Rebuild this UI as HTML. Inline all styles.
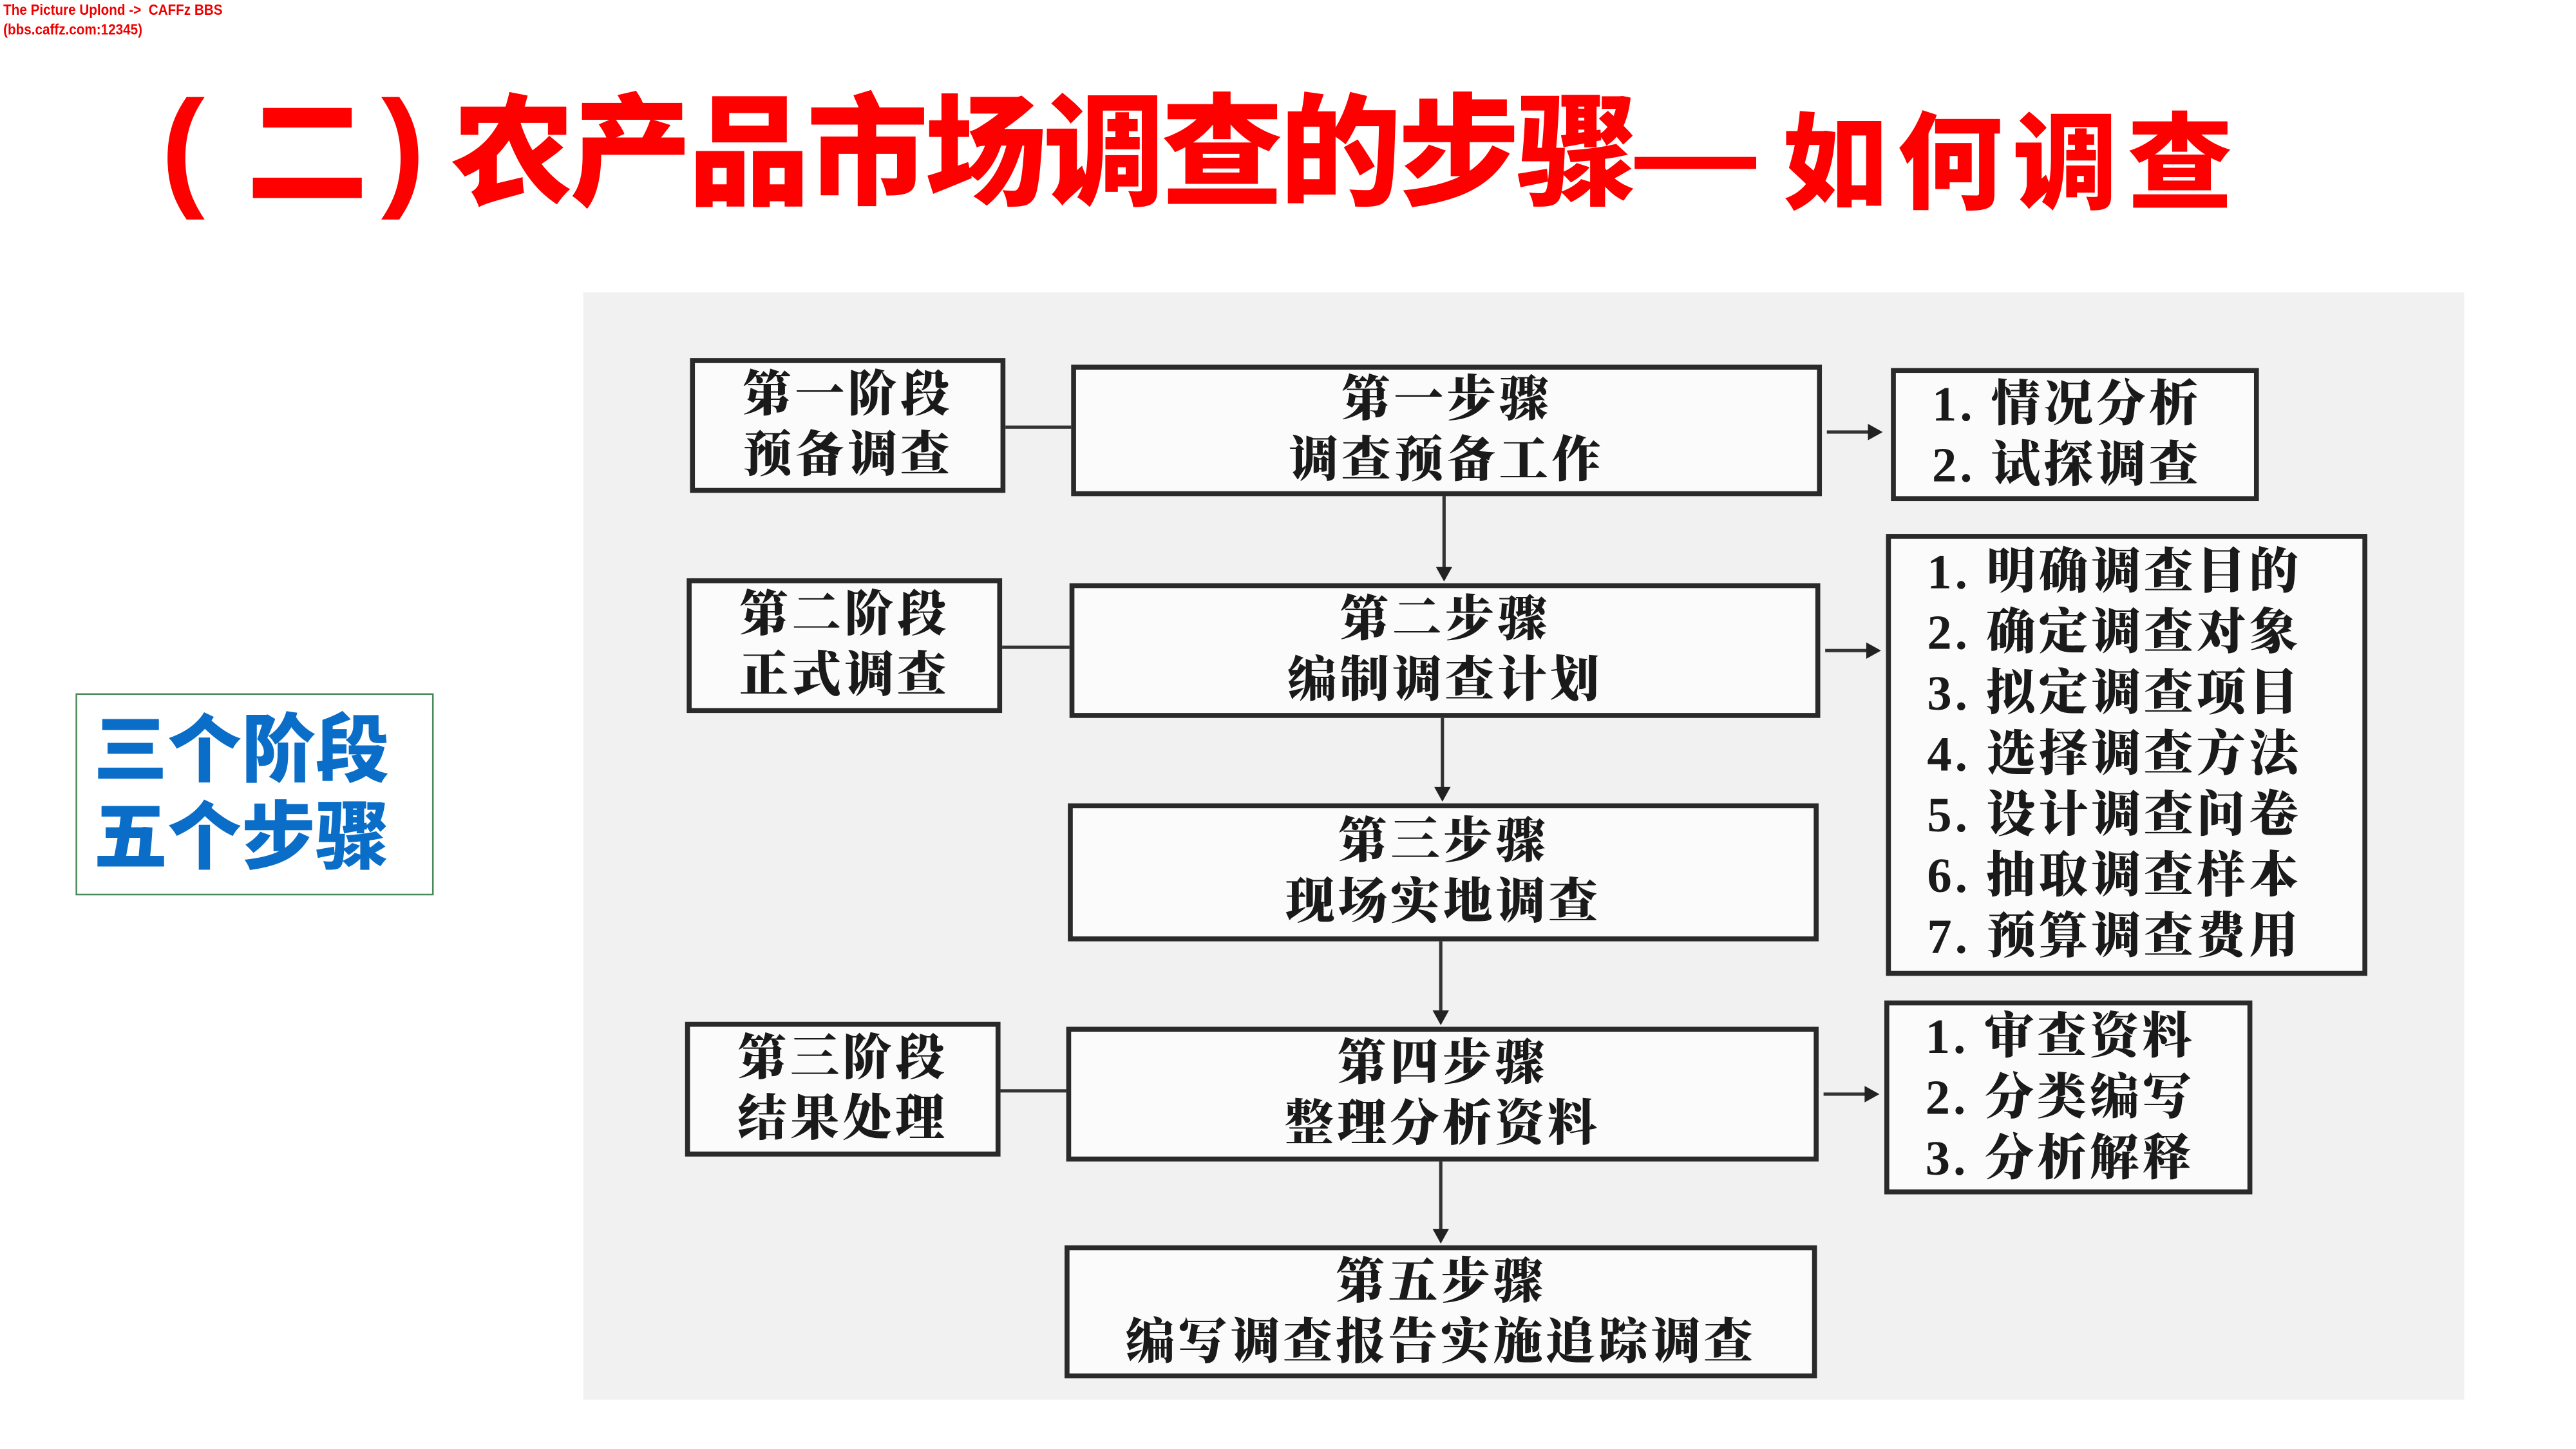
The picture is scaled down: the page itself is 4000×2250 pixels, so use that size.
<!DOCTYPE html>
<html><head><meta charset="utf-8">
<style>
html,body{margin:0;padding:0;background:#fff;}
#w{position:relative;width:1568px;height:882px;transform:scale(2.5510);transform-origin:0 0;overflow:hidden;background:#fff;}
.a{position:absolute;}
.bx{position:absolute;box-sizing:border-box;border:3px solid #2a2a2a;background:#fbfbfb;font-family:"Liberation Serif","Noto Serif CJK SC",serif;font-weight:900;color:#1a1a1a;font-size:30px;letter-spacing:2px;line-height:37px;text-align:center;display:flex;flex-direction:column;justify-content:center;white-space:nowrap;}
.ls{text-align:left;padding-left:22px;}
.h{position:absolute;height:2px;background:#333;}
.v{position:absolute;width:2px;background:#333;}
.ar{position:absolute;width:0;height:0;}
.dn{border-left:5px solid transparent;border-right:5px solid transparent;border-top:9px solid #222;}
.rt{border-top:5px solid transparent;border-bottom:5px solid transparent;border-left:9px solid #222;}
.t{font-family:"Liberation Sans","Noto Sans CJK SC",sans-serif;font-weight:900;color:#f00;font-size:74px;line-height:80px;top:54px;white-space:nowrap;}
.t2{font-size:64px;top:60px;}
</style></head><body>
<div id="w">
<div class="a" style="left:2px;top:0;font-family:'Liberation Sans',sans-serif;font-weight:bold;color:#e00;font-size:9px;line-height:12px;transform:scaleX(0.9);transform-origin:0 0;">The Picture Uplond -&gt; &nbsp;CAFFz BBS<br>(bbs.caffz.com:12345)</div>

<div class="a t" style="left:98px;font-family:'Liberation Sans',sans-serif;font-weight:bold;font-size:80px;top:50px;">(</div>
<div class="a t" style="left:150px;">二</div>
<div class="a t" style="left:232px;font-family:'Liberation Sans',sans-serif;font-weight:bold;font-size:80px;top:50px;">)</div>
<div class="a t" style="left:275px;letter-spacing:-2px;">农产品市场调查的步骤—</div>
<div class="a t t2" style="left:1085px;">如</div>
<div class="a t t2" style="left:1155px;">何</div>
<div class="a t t2" style="left:1225px;">调</div>
<div class="a t t2" style="left:1295px;">查</div>

<div class="a" style="left:46px;top:422px;width:218px;height:123px;box-sizing:border-box;border:1.5px solid #4a8a5a;background:#fff;"></div>
<div class="a" style="left:57px;top:430px;font-family:'Liberation Sans','Noto Sans CJK SC',sans-serif;font-weight:900;color:#0a6ec8;font-size:45px;line-height:53px;">三个阶段<br>五个步骤</div>

<div class="a" style="left:355px;top:178px;width:1145px;height:674px;background:#f1f1f1;"></div>

<div class="bx" style="left:420px;top:218px;width:192px;height:82px;">第一阶段<br>预备调查</div>
<div class="bx" style="left:652px;top:222px;width:457px;height:80px;">第一步骤<br>调查预备工作</div>
<div class="bx ls" style="left:1151px;top:224px;width:224px;height:81px;">1. 情况分析<br>2. 试探调查</div>

<div class="bx" style="left:418px;top:352px;width:192px;height:82px;">第二阶段<br>正式调查</div>
<div class="bx" style="left:651px;top:355px;width:457px;height:82px;">第二步骤<br>编制调查计划</div>
<div class="bx ls" style="left:1148px;top:325px;width:293px;height:269px;">1. 明确调查目的<br>2. 确定调查对象<br>3. 拟定调查项目<br>4. 选择调查方法<br>5. 设计调查问卷<br>6. 抽取调查样本<br>7. 预算调查费用</div>

<div class="bx" style="left:650px;top:489px;width:457px;height:84px;">第三步骤<br>现场实地调查</div>

<div class="bx" style="left:417px;top:622px;width:192px;height:82px;">第三阶段<br>结果处理</div>
<div class="bx" style="left:649px;top:625px;width:458px;height:82px;">第四步骤<br>整理分析资料</div>
<div class="bx ls" style="left:1147px;top:609px;width:224px;height:118px;">1. 审查资料<br>2. 分类编写<br>3. 分析解释</div>

<div class="bx" style="left:648px;top:758px;width:458px;height:81px;">第五步骤<br>编写调查报告实施追踪调查</div>

<div class="h" style="left:612px;top:259px;width:40px;"></div>
<div class="h" style="left:610px;top:393px;width:41px;"></div>
<div class="h" style="left:609px;top:663px;width:40px;"></div>

<div class="h" style="left:1112px;top:262px;width:26px;"></div><div class="ar rt" style="left:1137px;top:258px;"></div>
<div class="h" style="left:1111px;top:395px;width:26px;"></div><div class="ar rt" style="left:1136px;top:391px;"></div>
<div class="h" style="left:1110px;top:665px;width:26px;"></div><div class="ar rt" style="left:1135px;top:661px;"></div>

<div class="v" style="left:878px;top:302px;height:44px;"></div><div class="ar dn" style="left:874px;top:345px;"></div>
<div class="v" style="left:877px;top:437px;height:43px;"></div><div class="ar dn" style="left:873px;top:479px;"></div>
<div class="v" style="left:876px;top:573px;height:43px;"></div><div class="ar dn" style="left:872px;top:615px;"></div>
<div class="v" style="left:876px;top:707px;height:42px;"></div><div class="ar dn" style="left:872px;top:748px;"></div>
</div>
</body></html>
